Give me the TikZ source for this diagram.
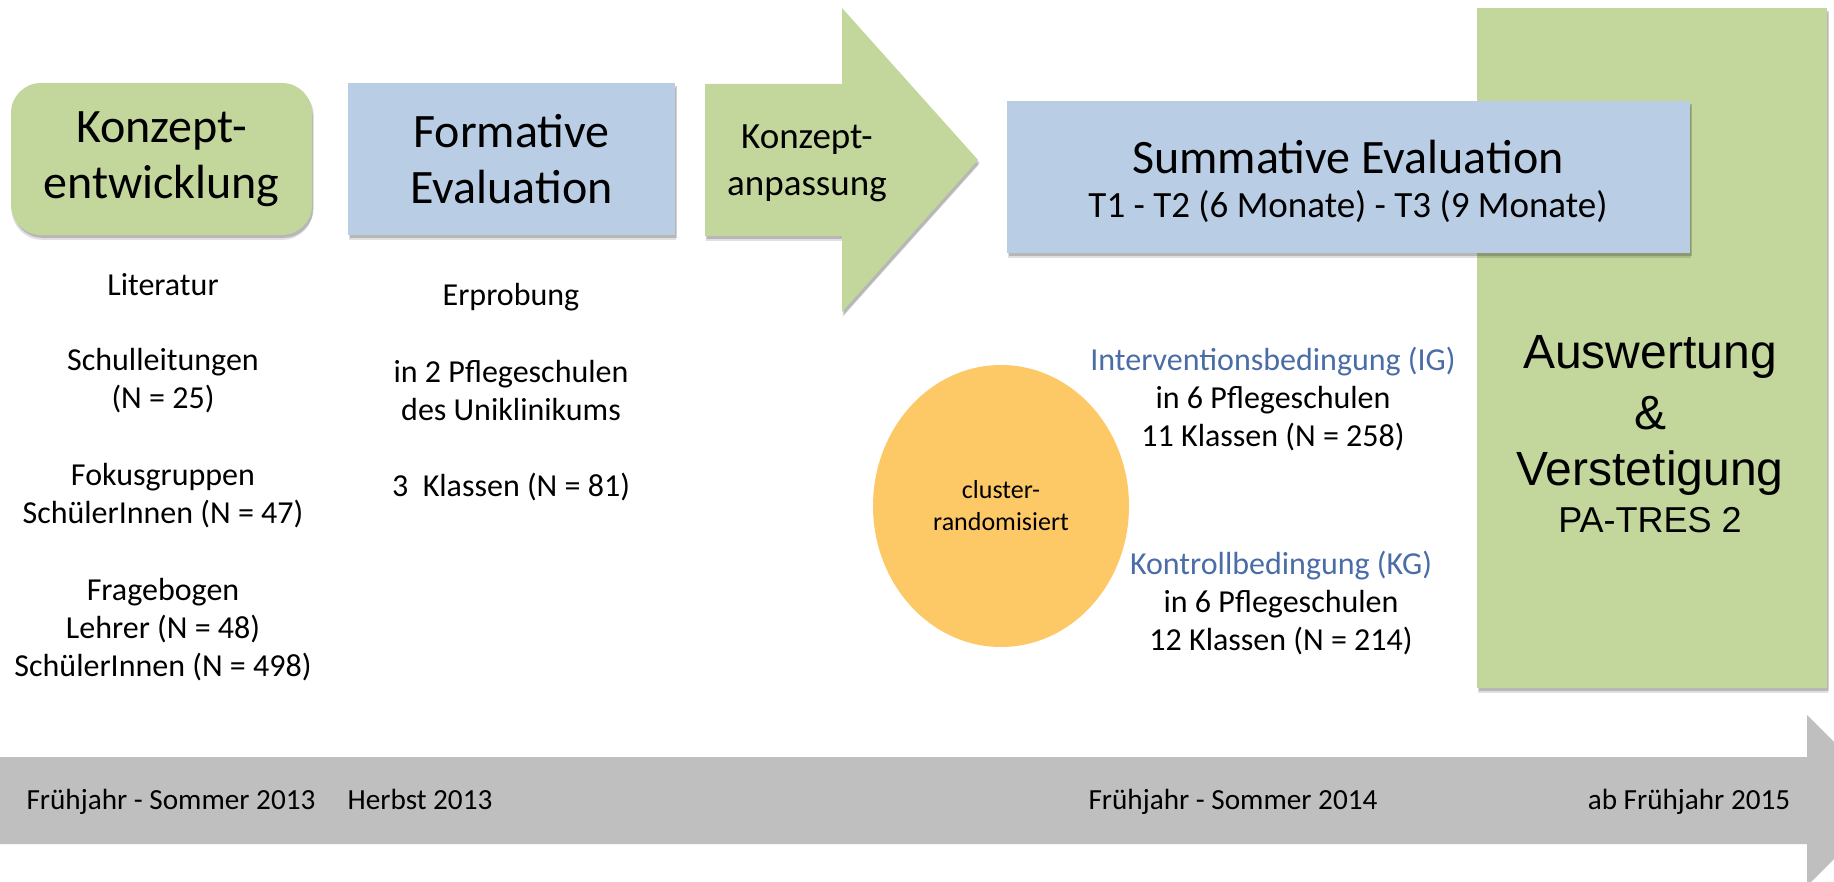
\documentclass[tikz,border=0pt]{standalone}
\usepackage{fontspec}
\setmainfont{Carlito}
\newfontfamily\arialfont{Liberation Sans}
\usetikzlibrary{shapes.geometric,shadows}
\definecolor{boxgreen}{HTML}{C3D69B}
\definecolor{boxblue}{HTML}{B9CDE5}
\definecolor{ellorange}{HTML}{FDC967}
\definecolor{bandgrey}{HTML}{BFBFBF}
\definecolor{headblue}{HTML}{4A6DA7}
\begin{document}
\begin{tikzpicture}[x=0.5pt,y=-0.5pt,
  softshadow/.style={drop shadow={shadow xshift=0.4pt,shadow yshift=-2.4pt,opacity=0.12,fill=black},
                     drop shadow={shadow xshift=0.8pt,shadow yshift=-1.4pt,opacity=0.18,fill=black}},
  box/.style={inner sep=0pt,outer sep=0pt,align=center},
  title/.style={font=\fontsize{24}{28}\selectfont},
  body/.style={font=\fontsize{16}{19}\selectfont,align=center,inner sep=0pt},
  bandtext/.style={font=\fontsize{14.6}{17}\selectfont,inner sep=0pt,anchor=base},
  bigarial/.style={font=\arialfont\fontsize{24}{28}\selectfont,inner sep=0pt}]
\useasboundingbox (0,0) rectangle (1834,882);
\clip (0,0) rectangle (1834,882);
\fill[white] (0,0) rectangle (1834,882);

% timeline band
\fill[bandgrey] (0,757) -- (1807,757) -- (1807,715) -- (1893,800.5) -- (1807,886) -- (1807,844) -- (0,844) -- cycle;

% Auswertung column
\node[box,fill=boxgreen,minimum width=175pt,minimum height=340pt,softshadow] (ausw) at (1652,348) {};

% top boxes
\node[box,title,fill=boxgreen,rounded corners=15pt,minimum width=150.5pt,minimum height=76pt,softshadow] (konzept) at (161.5,159) {Konzept-\\entwicklung};
\node[box,title,fill=boxblue,minimum width=163.5pt,minimum height=76pt,softshadow] (formativ) at (511.5,159) {Formative\\Evaluation};
\fill[boxgreen,softshadow] (705,84) -- (842,84) -- (842,8) -- (978,160) -- (842,312) -- (842,236) -- (705,236) -- cycle;
\node[box,font=\fontsize{18.5}{23.5}\selectfont] (anpass) at (807,163) {Konzept-\\anpassung};
\node[box,fill=boxblue,minimum width=341.5pt,minimum height=76pt,softshadow] (summ) at (1348.5,177) {};
\node[inner sep=0pt,title] (summT) at (1348,157) {Summative Evaluation};
\node[inner sep=0pt,font=\fontsize{18.5}{22}\selectfont] (summS) at (1348,207) {T1 - T2 (6 Monate) - T3 (9 Monate)};

% left column
\node[body] (lit) at (163,285) {Literatur};
\node[body] (schul) at (163,381) {Schulleitungen\\(N = 25)};
\node[body] (fokus) at (163,496) {Fokusgruppen\\SchülerInnen (N = 47)};
\node[body] (frage) at (163,630) {Fragebogen\\Lehrer (N = 48)\\SchülerInnen (N = 498)};

% middle column
\node[body] (erprob) at (511,297) {Erprobung};
\node[body] (pflege) at (511,391) {in 2 Pflegeschulen\\des Uniklinikums};
\node[body] (klass) at (511,487) {3~~Klassen (N = 81)};

% randomisation
\node[ellipse,fill=ellorange,inner sep=0pt,minimum width=128pt,minimum height=141pt,align=center,font=\fontsize{13}{16}\selectfont] (cluster) at (1001,506) {cluster-\\randomisiert};
\node[body] (ig) at (1273,399.5) {{\color{headblue}Interventionsbedingung (IG)}\\in 6 Pflegeschulen\\11 Klassen (N = 258)};
\node[body] (kg) at (1281,603.5) {{\color{headblue}Kontrollbedingung (KG)}\\in 6 Pflegeschulen\\12 Klassen (N = 214)};

% Auswertung text
\node[bigarial] (a1) at (1650,357) {Auswertung};
\node[bigarial] (a2) at (1650,413) {\&};
\node[bigarial] (a3) at (1650,473) {Verstetigung};
\node[inner sep=0pt,font=\arialfont\fontsize{18}{21}\selectfont] (a4) at (1650,520) {PA-TRES 2};

% timeline labels
\node[bandtext] (t1) at (171,809) {Frühjahr - Sommer 2013};
\node[bandtext] (t2) at (420,809) {Herbst 2013};
\node[bandtext] (t3) at (1233,809) {Frühjahr - Sommer 2014};
\node[bandtext] (t4) at (1689,809) {ab Frühjahr 2015};
\end{tikzpicture}
\end{document}
